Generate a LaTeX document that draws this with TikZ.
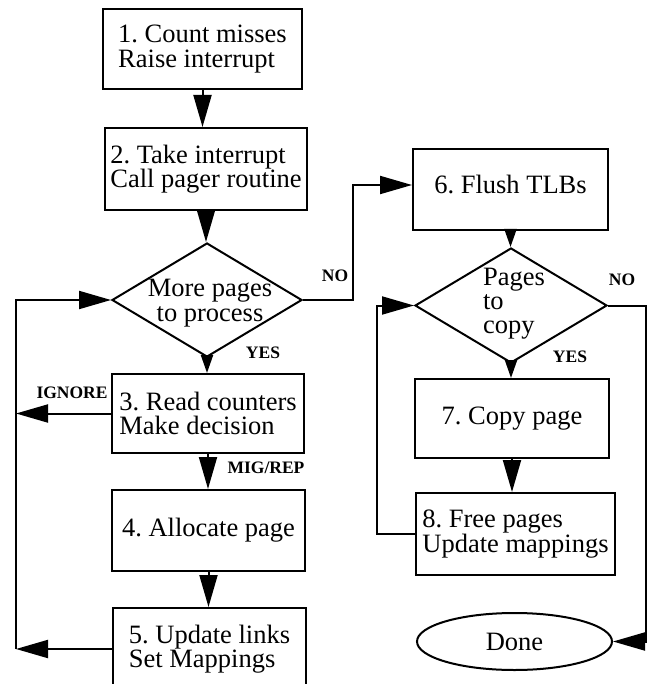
\documentclass[tikz,border=0pt]{standalone}
\usepackage{fontspec}
\setmainfont{Liberation Serif}
\usetikzlibrary{arrows.meta,shapes.geometric}
\lineskiplimit=-100pt
\frenchspacing

\newcommand{\stepfont}{\fontsize{26.5}{24.5}\selectfont}
\newcommand{\tagfont}{\fontsize{17.5}{20}\selectfont\bfseries}

\begin{document}
\begin{tikzpicture}[x=1pt, y=-1pt,
  stepbox/.style={draw, line width=2pt, align=left, font=\stepfont, inner xsep=2pt, inner ysep=2pt},
  decision/.style={draw, diamond, line width=2pt, inner sep=0pt},
  finish/.style={draw, ellipse, line width=2pt, inner sep=0pt, font=\stepfont},
  tag/.style={font=\tagfont, inner sep=0pt},
  bigtip/.style={line width=2pt, -{Triangle[length=32pt, width=18pt]}},
  smalltip/.style={line width=2pt, -{Triangle[length=18pt, width=12pt]}}]
\useasboundingbox (0,0) rectangle (647,684);
\clip (0,0) rectangle (647,684);

% === Left column ===
\node[stepbox, minimum width=199, minimum height=80] (box1) at (202.5,49) {1. Count misses\\Raise interrupt};
\node[stepbox, minimum width=202, minimum height=82] (box2) at (206,169) {2. Take interrupt\\Call pager routine};
\node[decision, minimum width=190, minimum height=114] (d1) at (207,300) {};
\node[font=\stepfont, align=center, inner sep=0pt] (d1-text) at (210,303) {More pages\\to process};
\node[stepbox, minimum width=192, minimum height=79] (box3) at (208,413.5) {3. Read counters\\Make decision};
\node[stepbox, minimum width=193, minimum height=81] (box4) at (208.5,530.5) {4. Allocate page};
\node[stepbox, minimum width=193, minimum height=82] (box5) at (209.5,649) {5. Update links\\Set Mappings};

% === Right column ===
\node[stepbox, minimum width=195, minimum height=81, text depth=10pt] (box6) at (510.5,189.5) {6. Flush TLBs};
\node[decision, minimum width=192, minimum height=115] (d2) at (511,305.5) {};
\node[font=\fontsize{26.5}{24}\selectfont, align=left, inner sep=0pt] (d2-text) at (514,304) {Pages\\to\\copy};
\node[stepbox, minimum width=194, minimum height=79] (box7) at (512,418.5) {7. Copy page};
\node[stepbox, minimum width=199, minimum height=82] (box8) at (515.5,534) {8. Free pages\\Update mappings};
\node[finish, minimum width=195, minimum height=57] (done) at (514.5,641.5) {Done};

% === Straight connections ===
\foreach \a/\b in {box1/box2, box2/d1, box3/box4, box4/box5, box7/box8}{
  \draw[bigtip] (\a.south) -- (\a.south |- \b.north);
}
\foreach \a/\b in {d1/box3, box6/d2, d2/box7}{
  \draw[smalltip] (\a.south) -- (\a.south |- \b.north);
}

% === Loops ===
\coordinate (loopL) at (16,0);
\coordinate (no1) at (353,185);
\draw[bigtip] (box3.west) -- (box3.west -| loopL);
\draw[bigtip] (box5.west) -- (box5.west -| loopL);
\draw[bigtip] (box5.west -| loopL) |- (d1.west);
\draw[bigtip] (d1.east) -| (no1) -- (no1 -| box6.west);
\draw[bigtip] (box8.west) -- ++(-38,0) |- (d2.west);
\draw[bigtip] (d2.east) -- ++(38,0) |- (done.east);

% === Labels ===
\node[tag] (no-a) at (335,276) {NO};
\node[tag] (yes-a) at (263,353) {YES};
\node[tag] (ignore) at (72,393) {IGNORE};
\node[tag] (migrep) at (266,468) {MIG/REP};
\node[tag] (no-b) at (622,280) {NO};
\node[tag] (yes-b) at (570,357) {YES};
\end{tikzpicture}
\end{document}
